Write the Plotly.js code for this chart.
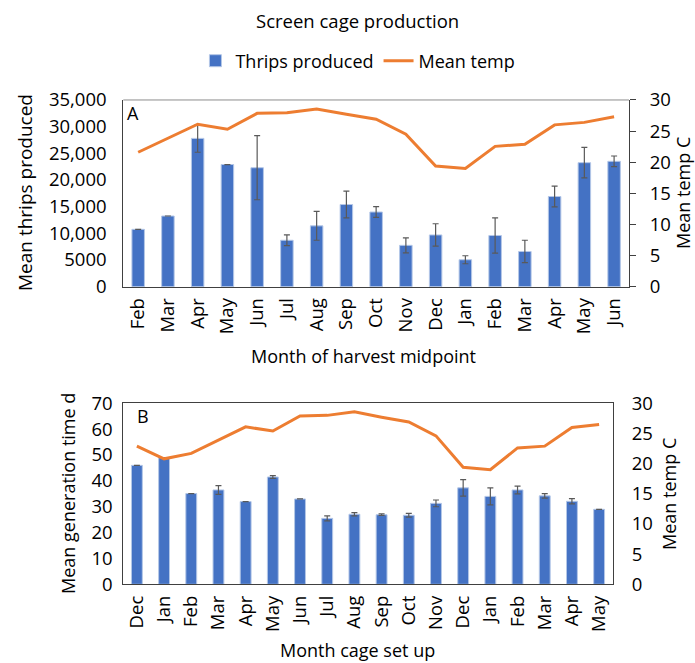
<!DOCTYPE html>
<html>
<head>
<meta charset="utf-8">
<script src="https://cdn.plot.ly/plotly-3.0.1.min.js"></script>
<style>html,body{margin:0;padding:0;background:#fff;}#chart{width:695px;height:663px;}</style>
</head>
<body>
<div id="chart"></div>
<script>
// Panel A: month of harvest midpoint
const monthsA = ["Feb","Mar","Apr","May","Jun","Jul","Aug","Sep","Oct","Nov","Dec","Jan","Feb","Mar","Apr","May","Jun"];
const thripsA = [10750,13250,27800,22900,22300,8700,11400,15400,14000,7750,9700,5050,9600,6600,16900,23250,23500];
const thripsErrA = [0,0,2600,0,6000,1000,2700,2500,1000,1400,2100,750,3300,2100,1950,2850,1000];
const tempA = [21.6,23.8,26.1,25.3,27.85,27.95,28.55,27.7,26.9,24.5,19.4,19.0,22.55,22.9,26.0,26.4,27.3];

// Panel B: month cage set up
const monthsB = ["Dec","Jan","Feb","Mar","Apr","May","Jun","Jul","Aug","Sep","Oct","Nov","Dec","Jan","Feb","Mar","Apr","May"];
const genTimeB = [46.0,49.0,35.1,36.5,32.0,41.5,33.0,25.5,27.1,26.9,26.7,31.3,37.3,34.0,36.5,34.2,32.1,29.0];
const genErrB = [0,0,0,1.7,0,0.5,0,1.0,0.6,0.3,0.7,1.3,3.2,3.3,1.5,0.9,1.0,0];
const tempB = [22.9,20.8,21.7,23.9,26.1,25.4,27.9,28.0,28.6,27.7,26.9,24.6,19.4,19.0,22.6,22.9,26.0,26.5];

const thripsTicks = [0,5000,10000,15000,20000,25000,30000,35000];
const thripsTickText = ["0","5000","10,000","15,000","20,000","25,000","30,000","35,000"];
const genTicks = [0,10,20,30,40,50,60,70];
const tempTicks = [0,5,10,15,20,25,30];

const FONT = "Open Sans, Liberation Sans, sans-serif";
const BLUE = "#4472C4";
const ORANGE = "#ED7D31";
const xA = monthsA.map((_, i) => i);
const xB = monthsB.map((_, i) => i);

const traces = [
  {type:"bar", x:xA, y:thripsA, name:"Thrips produced", xaxis:"x", yaxis:"y", width:0.42,
   marker:{color:BLUE, line:{color:"#b4c7e7", width:1}},
   error_y:{type:"data", array:thripsErrA, visible:true, color:"#595959", thickness:1.2, width:3}},
  {type:"scatter", mode:"lines", x:xA, y:tempA, name:"Mean temp", xaxis:"x", yaxis:"y2",
   line:{color:ORANGE, width:3}},
  {type:"bar", x:xB, y:genTimeB, name:"Mean generation time", xaxis:"x2", yaxis:"y3", width:0.4, showlegend:false,
   marker:{color:BLUE, line:{color:"#b4c7e7", width:1}},
   error_y:{type:"data", array:genErrB, visible:true, color:"#595959", thickness:1.2, width:3}},
  {type:"scatter", mode:"lines", x:xB, y:tempB, name:"Mean temp B", xaxis:"x2", yaxis:"y4", showlegend:false,
   line:{color:ORANGE, width:3}}
];

const tickFont = {family:FONT, size:18.5, color:"#000"};
const titleFont = {family:FONT, size:18, color:"#000"};

const layout = {
  width:695, height:663,
  margin:{l:0, r:0, t:0, b:0},
  paper_bgcolor:"#fff", plot_bgcolor:"rgba(0,0,0,0)",
  showlegend:true,
  legend:{orientation:"h", x:0.515, xanchor:"center", y:0.908, yanchor:"middle",
          font:{family:FONT, size:18, color:"#000"}, traceorder:"normal", itemwidth:30},
  bargap:0,
  xaxis:{domain:[0.1774,0.905], anchor:"y", range:[-0.5,16.5], tickmode:"array", tickvals:xA, ticktext:monthsA,
         tickangle:-90, tickfont:tickFont, showline:true, linecolor:"#404040", linewidth:1, ticks:"", ticklabelstandoff:3, showgrid:false, zeroline:false},
  yaxis:{domain:[0.5676,0.8492], anchor:"x", range:[0,35000], tickmode:"array", tickvals:thripsTicks, ticktext:thripsTickText,
         tickfont:tickFont, showline:true, linecolor:"#404040", linewidth:1, ticks:"", ticklabelstandoff:12, showgrid:false, zeroline:false},
  yaxis2:{overlaying:"y", side:"right", anchor:"x", range:[0,30], tickmode:"array", tickvals:tempTicks,
          tickfont:tickFont, showline:true, linecolor:"#404040", linewidth:1, ticks:"outside", ticklen:6, tickcolor:"#404040", ticklabelstandoff:10, showgrid:false, zeroline:false},
  xaxis2:{domain:[0.1774,0.8816], anchor:"y3", range:[-0.5,17.5], tickmode:"array", tickvals:xB, ticktext:monthsB,
          tickangle:-90, tickfont:tickFont, showline:true, mirror:true, linecolor:"#404040", linewidth:1, ticks:"", ticklabelstandoff:3, showgrid:false, zeroline:false},
  yaxis3:{domain:[0.1187,0.3917], anchor:"x2", range:[0,70], tickmode:"array", tickvals:genTicks,
          tickfont:tickFont, showline:true, mirror:true, linecolor:"#404040", linewidth:1, ticks:"", ticklabelstandoff:6, showgrid:false, zeroline:false},
  yaxis4:{overlaying:"y3", side:"right", anchor:"x2", range:[0,30], tickmode:"array", tickvals:tempTicks,
          tickfont:tickFont, showline:false, ticks:"", ticklabelstandoff:18, showgrid:false, zeroline:false},
  shapes:[
    {type:"line", xref:"paper", yref:"paper", x0:0.1774, x1:0.905, y0:0.8492, y1:0.8492, line:{color:"#8c8c8c", width:1}}
  ],
  annotations:[
    {text:"Screen cage production", xref:"paper", yref:"paper", x:0.515, y:1-20/663, showarrow:false, font:{family:FONT, size:18.5, color:"#000"}, xanchor:"center", yanchor:"middle"},
    {text:"A", xref:"paper", yref:"paper", x:0.180, y:1-113/663, showarrow:false, font:{family:FONT, size:18, color:"#000"}, xanchor:"left", yanchor:"middle"},
    {text:"B", xref:"paper", yref:"paper", x:0.194, y:1-416/663, showarrow:false, font:{family:FONT, size:18, color:"#000"}, xanchor:"left", yanchor:"middle"},
    {text:"Mean thrips produced", xref:"paper", yref:"paper", x:25/695, y:1-193/663, textangle:-90, showarrow:false, font:{family:FONT, size:19, color:"#000"}, xanchor:"center", yanchor:"middle"},
    {text:"Mean temp C", xref:"paper", yref:"paper", x:683/695, y:1-193/663, textangle:-90, showarrow:false, font:titleFont, xanchor:"center", yanchor:"middle"},
    {text:"Month of harvest midpoint", xref:"paper", yref:"paper", x:363/695, y:1-356/663, showarrow:false, font:titleFont, xanchor:"center", yanchor:"middle"},
    {text:"Mean generation time d", xref:"paper", yref:"paper", x:68/695, y:1-494/663, textangle:-90, showarrow:false, font:titleFont, xanchor:"center", yanchor:"middle"},
    {text:"Mean temp C", xref:"paper", yref:"paper", x:669/695, y:1-494/663, textangle:-90, showarrow:false, font:titleFont, xanchor:"center", yanchor:"middle"},
    {text:"Month cage set up", xref:"paper", yref:"paper", x:357/695, y:1-650/663, showarrow:false, font:titleFont, xanchor:"center", yanchor:"middle"}
  ]
};

Plotly.newPlot("chart", traces, layout, {displayModeBar:false, staticPlot:true});
</script>
</body>
</html>
